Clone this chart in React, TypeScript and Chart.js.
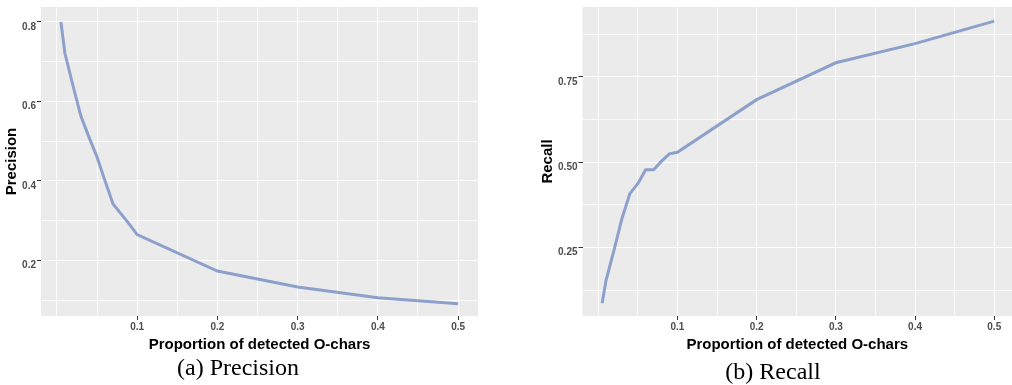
import React, { useEffect, useRef } from "react";
import { Chart, registerables } from "chart.js";

Chart.register(...registerables);

// ---- data ----
const proportions = [0.005, 0.01, 0.02, 0.03, 0.04, 0.05, 0.06, 0.07, 0.08, 0.09, 0.1, 0.2, 0.3, 0.4, 0.5];
const precisionValues = [0.8, 0.721, 0.64, 0.5625, 0.51, 0.46, 0.4, 0.342, 0.317, 0.292, 0.265, 0.173, 0.133, 0.106, 0.091];
const recallValues = [0.0864, 0.1545, 0.242, 0.335, 0.4077, 0.437, 0.478, 0.478, 0.503, 0.5245, 0.529, 0.683, 0.791, 0.847, 0.913];

const xMajorTicks = [0.1, 0.2, 0.3, 0.4, 0.5];
const xMinorTicks = [0, 0.05, 0.15, 0.25, 0.35, 0.45];
const precisionMajorTicks = [0.2, 0.4, 0.6, 0.8];
const precisionMinorTicks = [0.1, 0.3, 0.5, 0.7];
const recallMajorTicks = [0.25, 0.5, 0.75];
const recallMinorTicks = [0.125, 0.375, 0.625, 0.875];

const xAxisTitle = "Proportion of detected O-chars";

const LINE_COLOR = "#8DA0CB";
const PANEL_BG = "#EBEBEB";
const TICK_FONT = { family: "'Liberation Sans', Arial, sans-serif", size: 10, weight: "bold" as const };
const TITLE_FONT = { family: "'Liberation Sans', Arial, sans-serif", size: 15, weight: "bold" as const };

const panelBg = {
  id: "panelBg",
  beforeDraw(chart: any) {
    const { ctx, chartArea } = chart;
    ctx.save();
    ctx.fillStyle = PANEL_BG;
    ctx.fillRect(chartArea.left, chartArea.top, chartArea.right - chartArea.left, chartArea.bottom - chartArea.top);
    ctx.restore();
  },
};

type PanelProps = {
  values: number[];
  yTitle: string;
  yMin: number;
  yMax: number;
  xMin: number;
  xMax: number;
  yMajor: number[];
  yMinor: number[];
  yDigits: number;
  yAxisWidth: number;
  yTitlePad: number;
  padRight: number;
  width: number;
  height: number;
};

function near(list: number[], v: number) {
  return list.some((t) => Math.abs(t - v) < 1e-9);
}

function Panel(p: PanelProps) {
  const ref = useRef<HTMLCanvasElement | null>(null);
  useEffect(() => {
    if (!ref.current) return;
    const xAll = [...xMinorTicks, ...xMajorTicks].sort((a, b) => a - b);
    const yAll = [...p.yMinor, ...p.yMajor].sort((a, b) => a - b);
    const chart = new Chart(ref.current, {
      type: "line",
      data: {
        datasets: [
          {
            data: proportions.map((x, i) => ({ x, y: p.values[i] })),
            borderColor: LINE_COLOR,
            borderWidth: 3,
            pointRadius: 0,
            tension: 0,
            fill: false,
          },
        ],
      },
      plugins: [panelBg],
      options: {
        responsive: false,
        animation: false,
        events: [],
        layout: { padding: { left: 0, top: 5, right: p.padRight, bottom: 0 } },
        plugins: { legend: { display: false }, tooltip: { enabled: false } },
        scales: {
          x: {
            type: "linear",
            min: p.xMin,
            max: p.xMax,
            afterBuildTicks: (s: any) => {
              s.ticks = xAll.map((v) => ({ value: v }));
            },
            afterFit: (s: any) => {
              s.height = 39;
            },
            border: { display: false },
            grid: {
              color: (c: any) => (near(xMajorTicks, c.tick?.value) ? "#FFFFFF" : "rgba(255,255,255,0.8)"),
              lineWidth: 1,
              drawTicks: true,
              tickLength: 4,
              tickColor: (c: any) => (near(xMajorTicks, c.tick?.value) ? "#333333" : "rgba(0,0,0,0)"),
            },
            ticks: {
              autoSkip: false,
              maxRotation: 0,
              padding: 1,
              color: "#4D4D4D",
              font: TICK_FONT,
              callback: (v: any) => (near(xMajorTicks, Number(v)) ? Number(v).toFixed(1) : ""),
            },
            title: {
              display: true,
              text: xAxisTitle,
              color: "#000000",
              font: TITLE_FONT,
              padding: { top: 0, bottom: 1 },
            },
          },
          y: {
            type: "linear",
            min: p.yMin,
            max: p.yMax,
            afterBuildTicks: (s: any) => {
              s.ticks = yAll.map((v) => ({ value: v }));
            },
            afterFit: (s: any) => {
              s.width = p.yAxisWidth;
            },
            border: { display: false },
            grid: {
              color: (c: any) => (near(p.yMajor, c.tick?.value) ? "#FFFFFF" : "rgba(255,255,255,0.8)"),
              lineWidth: 1,
              drawTicks: true,
              tickLength: 4,
              tickColor: (c: any) => (near(p.yMajor, c.tick?.value) ? "#333333" : "rgba(0,0,0,0)"),
            },
            ticks: {
              autoSkip: false,
              padding: 1,
              labelOffset: 5,
              color: "#4D4D4D",
              font: TICK_FONT,
              callback: (v: any) => (near(p.yMajor, Number(v)) ? Number(v).toFixed(p.yDigits) : ""),
            },
            title: {
              display: true,
              text: p.yTitle,
              color: "#000000",
              font: TITLE_FONT,
              padding: { top: p.yTitlePad, bottom: 0 },
            },
          },
        },
      },
    } as any);
    return () => chart.destroy();
  }, []);
  return <canvas ref={ref} width={p.width} height={p.height} style={{ display: "block" }} />;
}

const captionStyle: React.CSSProperties = {
  position: "absolute",
  fontFamily: "'Liberation Serif', 'Times New Roman', serif",
  fontSize: 24,
  lineHeight: "24px",
  color: "#000",
  whiteSpace: "nowrap",
  textAlign: "center",
  width: 300,
};

export default function App() {
  return (
    <div style={{ position: "absolute", left: 0, top: 0, width: 1012, height: 385, background: "#fff", overflow: "hidden" }}>
      <div style={{ position: "absolute", left: 0, top: 0 }}>
        <Panel
          values={precisionValues}
          yTitle="Precision"
          yMin={0.06}
          yMax={0.8375}
          xMin={-0.0198}
          xMax={0.5248}
          yMajor={precisionMajorTicks}
          yMinor={precisionMinorTicks}
          yDigits={1}
          yAxisWidth={41}
          yTitlePad={3}
          padRight={12}
          width={490}
          height={355}
        />
      </div>
      <div style={{ position: "absolute", left: 530, top: 0 }}>
        <Panel
          values={recallValues}
          yTitle="Recall"
          yMin={0.0494}
          yMax={0.9544}
          xMin={-0.0198}
          xMax={0.5224}
          yMajor={recallMajorTicks}
          yMinor={recallMinorTicks}
          yDigits={2}
          yAxisWidth={52.5}
          yTitlePad={9}
          padRight={0}
          width={482}
          height={355}
        />
      </div>
      <div style={{ ...captionStyle, left: 238 - 150, top: 355 }}>(a)&nbsp;Precision</div>
      <div style={{ ...captionStyle, left: 773 - 150, top: 359 }}>(b)&nbsp;Recall</div>
    </div>
  );
}
